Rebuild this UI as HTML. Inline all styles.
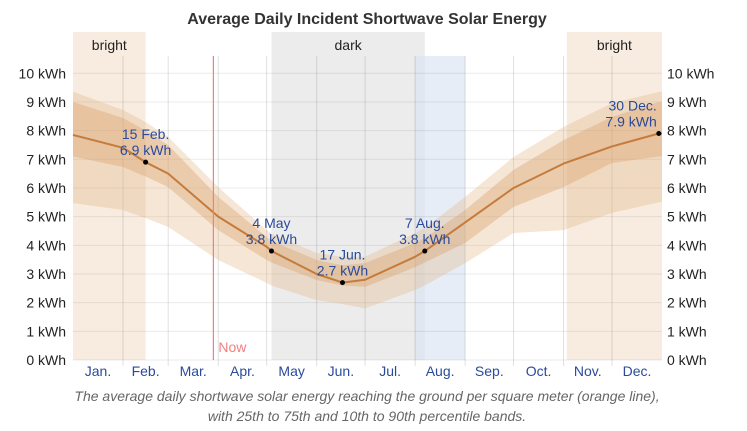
<!DOCTYPE html>
<html><head><meta charset="utf-8"><style>
body{margin:0;background:#fff;font-family:"Liberation Sans",Arial,sans-serif}
svg{display:block}
</style></head><body>
<svg id="c" width="747" height="431"></svg>
<script>
const days=[0,31,45,59,90,120,123,151,167,181,212,218,243,273,304,334,363,365];
const meanV=[7.85,7.4,6.9,6.5,5.0,3.95,3.8,3.0,2.7,2.8,3.6,3.8,4.8,6.0,6.85,7.45,7.9,7.9];
const p90=[9.36,8.72,8.3,7.78,6.03,4.53,4.4,3.73,3.6,3.6,4.43,4.6,5.69,7.08,8.13,8.96,9.35,9.35];
const p75=[9.0,8.44,8.0,7.5,5.69,4.29,4.15,3.49,3.3,3.38,4.08,4.25,5.23,6.63,7.67,8.48,9.0,9.0];
const p25=[7.1,6.73,6.4,6.03,4.53,3.49,3.4,2.79,2.6,2.55,3.24,3.4,4.08,5.34,6.03,6.87,7.1,7.1];
const p10=[5.47,5.23,4.95,4.64,3.49,2.69,2.6,2.09,1.95,1.8,2.44,2.6,3.38,4.43,4.53,5.13,5.5,5.51];
const months=["Jan.","Feb.","Mar.","Apr.","May","Jun.","Jul.","Aug.","Sep.","Oct.","Nov.","Dec."];
const monthStarts=[0,31,59,90,120,151,181,212,243,273,304,334,365];
const yTicks=[0,1,2,3,4,5,6,7,8,9,10];
const annDays=[45,123,167,218,363];
const annVals=[6.9,3.8,2.7,3.8,7.9];
const annLabels=["15 Feb.","4 May","17 Jun.","7 Aug.","30 Dec."];
const nowDay=87;
const bands=[{a:0,b:45,k:"bright"},{a:306,b:365,k:"bright"},{a:123,b:218,k:"dark"}];

const X=d=>73+d*589/365, Y=v=>360-v*28.67;
const svg=document.getElementById('c');
const NS="http://www.w3.org/2000/svg";
function mk(t,a,p){const e=document.createElementNS(NS,t);for(const k in a)e.setAttribute(k,a[k]);(p||svg).appendChild(e);return e;}
function txt(x,y,s,a){const e=mk('text',Object.assign({x:x,y:y},a));e.textContent=s;return e;}

for(const b of bands){
 const r=mk('rect',{x:X(b.a),y:32,width:X(b.b)-X(b.a),height:328,fill:b.k=="bright"?"#f8ece0":"#ececec"});
 
 
 const t=txt((X(b.a)+X(b.b))/2,50,b.k,{"font-size":14,"text-anchor":"middle",fill:"#222"});
 
 
}
const hl=mk('rect',{x:X(212),y:56,width:X(243)-X(212),height:304,fill:"#dce6f3",opacity:0.7});



for(const v of yTicks){
 const l=mk('line',{x1:73,x2:662,y1:Y(v),y2:Y(v),stroke:"#000","stroke-opacity":0.08});
 
 
 const a=txt(66,Y(v)+5,v+" kWh",{"font-size":14,"text-anchor":"end",fill:"#222"});
 
 
 const b=txt(667,Y(v)+5,v+" kWh",{"font-size":14,fill:"#222"});
 
 
}
for(let i=1;i<12;i++){
 const l=mk('line',{x1:X(monthStarts[i]),x2:X(monthStarts[i]),y1:56,y2:366,stroke:"#000","stroke-opacity":0.12});
 
 
}
for(let i=0;i<12;i++){
 const t=txt((X(monthStarts[i])+X(monthStarts[i+1]))/2,376,months[i],{"font-size":14,"text-anchor":"middle",fill:"#2a4b9b"});
 
 
}
function area(hi,lo,fill,name){
 let d="M"+days.map((x,i)=>X(x)+","+Y(hi[i])).join("L");
 d+="L"+days.map((x,i)=>X(x)+","+Y(lo[i])).reverse().join("L")+"Z";
 const p=mk('path',{d:d,fill:fill});
 
 
}
area(p90,p10,"rgba(225,180,130,0.33)","band-10-90");
area(p75,p25,"rgba(215,160,105,0.38)","band-25-75");
const ln=mk('path',{d:"M"+days.map((x,i)=>X(x)+","+Y(meanV[i])).join("L"),fill:"none",stroke:"#c57b3b","stroke-width":2,"stroke-linejoin":"round"});



const nw=mk('line',{x1:X(nowDay),x2:X(nowDay),y1:56,y2:360,stroke:"#f08080","stroke-width":1.2});


const nt=txt(X(nowDay)+5,352,"Now",{"font-size":14,fill:"#f08080"});



for(let i=0;i<annDays.length;i++){
 const x=X(annDays[i]),y=Y(annVals[i]);
 const c=mk('circle',{cx:x,cy:y,r:2.5,fill:"#000"});
 
 
 const anc=i==4?"end":"middle", tx=i==4?x-2:x;
 const a=txt(tx,y-23,annLabels[i],{"font-size":14,"text-anchor":anc,fill:"#2a4b9b"});
 
 
 const b=txt(tx,y-7,annVals[i].toFixed(1)+" kWh",{"font-size":14,"text-anchor":anc,fill:"#2a4b9b"});
 
 
}
const t=txt(367,24,"Average Daily Incident Shortwave Solar Energy",{"font-size":16,"font-weight":"bold","text-anchor":"middle",fill:"#333"});


const c1=txt(367,401,"The average daily shortwave solar energy reaching the ground per square meter (orange line),",{"font-size":14,"font-style":"italic","text-anchor":"middle",fill:"#666"});


const c2=txt(367,421,"with 25th to 75th and 10th to 90th percentile bands.",{"font-size":14,"font-style":"italic","text-anchor":"middle",fill:"#666"});


</script>
</body></html>
